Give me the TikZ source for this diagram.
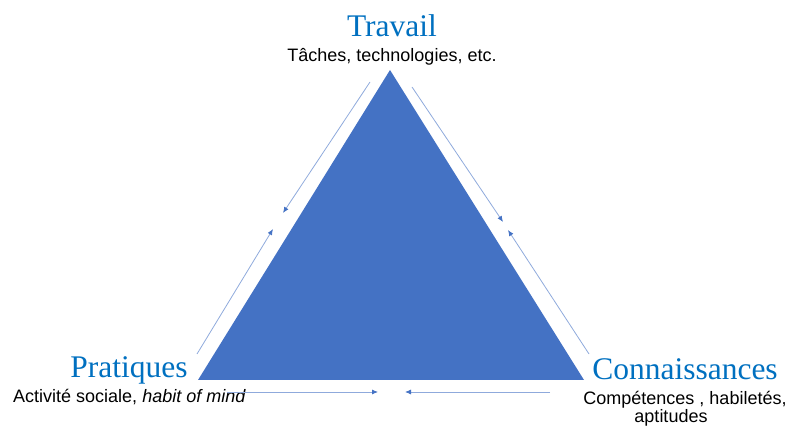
\documentclass[tikz,border=0pt]{standalone}
\usepackage{fontspec}
\setmainfont{Liberation Serif}
\setsansfont{Liberation Sans}
\usetikzlibrary{arrows.meta}
\definecolor{trifill}{HTML}{4472C4}
\definecolor{titleblue}{HTML}{0070C0}
\definecolor{flowline}{HTML}{8FAADC}

\begin{document}
\begin{tikzpicture}[x=1pt,y=1pt,
        title/.style = {font=\fontsize{31.5}{34}\selectfont, text=titleblue, inner sep=0pt, anchor=base},
        note/.style = {font=\sffamily\fontsize{18}{16}\selectfont, inner sep=0pt, anchor=base},
        flow/.style = {draw=flowline, line width=0.8pt, -{Latex[length=6pt,width=5pt,color=trifill]}}]
        \useasboundingbox (0,0) rectangle (786,430);
        % corners of the triangle
        \coordinate (T) at (390,360);
        \coordinate (P) at (198,50);
        \coordinate (C) at (584,50);
        \fill[trifill] (T) -- (P) -- (C) -- cycle;
        % labels at the corners
        \node[title](travail) at (392,393){Travail};
        \node[note](travailsub) at (392,368){Tâches, technologies, etc.};
        \node[title](pratiques) at (129,52){Pratiques};
        \node[note, anchor=base west](pratiquessub) at (13,27){Activité sociale, \textit{habit of mind}};
        \node[title](connaissances) at (685,50){Connaissances};
        \node[note](connaissancessub) at (685,25){Compétences , habiletés,};
        \node[note](connaissancessub2) at (671,7){aptitudes};
        % ends of the arrows along the sides
        \coordinate (tl1) at (370,348); \coordinate (tl2) at (283,217);
        \coordinate (pl1) at (197,76);  \coordinate (pl2) at (273,201);
        \coordinate (tr1) at (412,343); \coordinate (tr2) at (503,208);
        \coordinate (cr1) at (589,76);  \coordinate (cr2) at (508,200);
        \coordinate (pb1) at (227,38);  \coordinate (pb2) at (378,38);
        \coordinate (cb1) at (550,38);  \coordinate (cb2) at (405,38);
        \path (tl1) edge[flow] (tl2)
        (pl1) edge[flow] (pl2)
        (tr1) edge[flow] (tr2)
        (cr1) edge[flow] (cr2)
        (pb1) edge[flow] (pb2)
        (cb1) edge[flow] (cb2)
        ;
    \end{tikzpicture}
\end{document}
